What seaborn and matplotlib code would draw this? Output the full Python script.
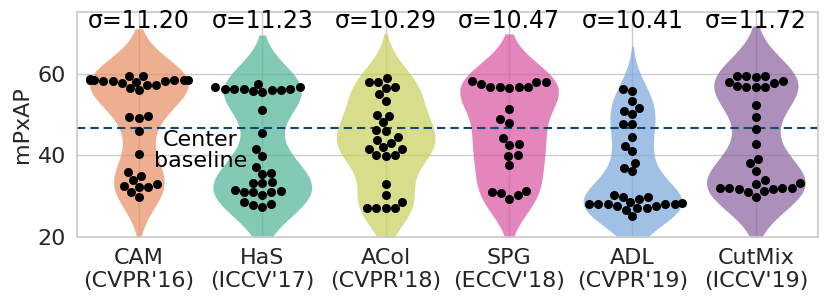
import numpy as np
import pandas as pd
import matplotlib
matplotlib.use("Agg")
import matplotlib.pyplot as plt
import seaborn as sns

methods = ["CAM\n(CVPR'16)", "HaS\n(ICCV'17)", "ACol\n(CVPR'18)",
           "SPG\n(ECCV'18)", "ADL\n(CVPR'19)", "CutMix\n(ICCV'19)"]
sigmas = [11.20, 11.23, 10.29, 10.47, 10.41, 11.72]
center_baseline = 46.8

cam = [59.5, 59.5, 58.6, 58.5, 58.3, 58.2, 58.1, 58.0, 57.8, 57.2, 57.1, 56.4,
       55.9, 58.1, 58.3, 58.4, 58.5, 49.3, 49.2, 49.6, 45.9, 40.2, 35.8, 35.0,
       33.9, 32.9, 32.3, 32.2, 32.4, 31.0, 29.7]
has = [56.3, 56.2, 56.0, 55.9, 56.8, 55.5, 57.5, 55.7, 56.2, 56.3, 56.7, 51.0,
       45.5, 41.5, 39.8, 37.2, 35.6, 35.4, 33.4, 33.2, 33.3, 31.5, 31.2, 31.0,
       31.1, 31.0, 30.2, 28.6, 28.0, 27.9, 27.4]
acol = [57.9, 57.9, 59.0, 56.8, 56.5, 54.9, 53.4, 49.8, 49.7, 48.1, 46.3, 46.0,
        44.5, 43.7, 42.9, 42.0, 41.6, 41.5, 40.0, 39.9, 40.1, 33.1, 30.2, 28.6,
        27.0, 27.0, 27.0, 27.0]
spg = [57.5, 56.7, 56.6, 56.5, 56.7, 56.8, 58.2, 57.9, 58.0, 51.4, 48.8, 47.9,
       44.2, 42.7, 42.6, 40.0, 39.9, 37.7, 31.2, 31.0, 30.7, 30.2, 29.4]
adl = [56.2, 55.8, 53.4, 51.6, 50.9, 50.0, 47.7, 47.6, 44.5, 42.3, 41.0, 38.2,
       36.9, 36.1, 30.4, 29.9, 29.8, 29.2, 28.2, 28.1, 28.3, 28.2, 28.0, 28.2,
       28.5, 27.6, 27.7, 27.0, 27.1, 26.6, 25.1]
cutmix = [59.4, 59.2, 59.3, 59.5, 58.0, 58.1, 57.6, 56.7, 56.8, 56.6, 56.9,
          52.2, 49.3, 46.4, 42.8, 39.2, 38.0, 36.2, 33.9, 33.1, 33.2, 31.9, 32.0,
          31.8, 31.9, 32.1, 31.7, 31.1, 31.2, 29.9]

colors = ["#E88E62", "#4FB497", "#C6CF5A", "#D9529E", "#79A6DC", "#8A609E"]

rows = []
for m, vals in zip(methods, [cam, has, acol, spg, adl, cutmix]):
    for v in vals:
        rows.append((m, v))
df = pd.DataFrame(rows, columns=["method", "mPxAP"])

sns.set_theme(style="whitegrid")
plt.rcParams['font.family'] = ['DejaVu Sans']

fig, ax = plt.subplots(figsize=(8.3, 3.04), dpi=100)
fig.subplots_adjust(left=0.093, right=0.985, top=0.96, bottom=0.22)

sns.violinplot(data=df, x="method", y="mPxAP", hue="method", palette=colors,
               inner=None, linewidth=0, saturation=1, legend=False, ax=ax)
for c in ax.collections:
    c.set_alpha(0.7)
sns.swarmplot(data=df, x="method", y="mPxAP", color="black", size=6.5, ax=ax)

ax.axhline(center_baseline, ls="--", color="#0f4a72", lw=1.5, dashes=(4, 2.4))
ax.text(0.5, 41.2, "Center\nbaseline", ha="center", va="center",
        fontsize=16, color="black", linespacing=1.1)

for i, s in enumerate(sigmas):
    ax.text(i, 72.9, f"σ={s:.2f}", ha="center", va="center", fontsize=17,
            color="black", clip_on=False)

ax.set_ylim(20, 75)
ax.set_yticks([20, 40, 60])
ax.set_xlabel("")
ax.set_ylabel("mPxAP", fontsize=16)
ax.tick_params(axis="both", labelsize=16, pad=2)
for sp in ax.spines.values():
    sp.set_visible(True)
    sp.set_color("#cccccc")
ax.grid(True, color="#cccccc", lw=1)

fig.savefig("out.png", dpi=100)
